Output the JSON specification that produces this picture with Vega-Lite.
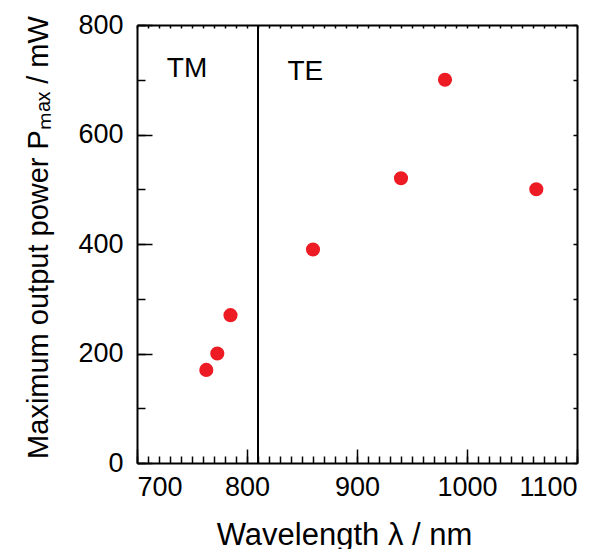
{
  "$schema": "https://vega.github.io/schema/vega-lite/v6.json",
  "width": 440,
  "height": 438,
  "autosize": "none",
  "padding": {"left": 137, "top": 25, "right": 34, "bottom": 86},
  "background": "white",
  "config": {
    "view": {"stroke": null},
    "axis": {
      "labelFont": "Liberation Sans",
      "titleFont": "Liberation Sans",
      "labelColor": "black",
      "titleColor": "black",
      "domainColor": "black",
      "tickColor": "black",
      "grid": false,
      "titleFontWeight": "normal"
    }
  },
  "datasets": {
    "pts": [
      {"wavelength": 763, "power": 170},
      {"wavelength": 773, "power": 200},
      {"wavelength": 785, "power": 270},
      {"wavelength": 860, "power": 390},
      {"wavelength": 940, "power": 520},
      {"wavelength": 980, "power": 700},
      {"wavelength": 1063, "power": 500}
    ],
    "divider": [{"wavelength": 810, "low": 0, "high": 800}],
    "labels": [
      {"label": "TM", "wavelength": 745.5, "power": 705},
      {"label": "TE", "wavelength": 853, "power": 700}
    ]
  },
  "resolve": {"axis": {"x": "independent", "y": "independent"}},
  "layer": [
    {
      "data": {"name": "divider"},
      "mark": {"type": "rule", "color": "black", "strokeWidth": 2},
      "encoding": {
        "x": {
          "field": "wavelength", "type": "quantitative",
          "scale": {"domain": [700, 1100], "nice": false},
          "axis": {
            "orient": "bottom", "labels": false, "domain": false, "title": null,
            "tickSize": -7, "tickWidth": 1.5,
            "values": [700,710,720,730,740,750,760,770,780,790,800,810,820,830,840,850,860,870,880,890,900,910,920,930,940,950,960,970,980,990,1000,1010,1020,1030,1040,1050,1060,1070,1080,1090,1100]
          }
        },
        "y": {
          "field": "low", "type": "quantitative",
          "scale": {"domain": [0, 800], "nice": false},
          "axis": {
            "orient": "left", "labels": false, "domain": false, "title": null,
            "tickSize": -8, "tickWidth": 1.5,
            "values": [0,100,200,300,400,500,600,700,800]
          }
        },
        "y2": {"field": "high"}
      }
    },
    {
      "data": {"name": "labels"},
      "mark": {"type": "text", "font": "Liberation Sans", "fontSize": 28, "align": "center", "baseline": "alphabetic", "color": "black"},
      "encoding": {
        "text": {"field": "label"},
        "x": {
          "field": "wavelength", "type": "quantitative",
          "axis": {
            "orient": "top", "labels": false, "domain": true, "domainWidth": 2, "title": null,
            "tickSize": -3, "tickWidth": 1.5,
            "values": [700,710,720,730,740,750,760,770,780,790,800,810,820,830,840,850,860,870,880,890,900,910,920,930,940,950,960,970,980,990,1000,1010,1020,1030,1040,1050,1060,1070,1080,1090,1100]
          }
        },
        "y": {
          "field": "power", "type": "quantitative",
          "axis": {
            "orient": "right", "labels": false, "domain": true, "domainWidth": 2, "title": null,
            "tickSize": -4, "tickWidth": 1.5,
            "values": [0,100,200,300,400,500,600,700,800]
          }
        }
      }
    },
    {
      "data": {"name": "pts"},
      "mark": {"type": "circle", "size": 200, "color": "#ED1C24", "opacity": 1},
      "encoding": {
        "x": {
          "field": "wavelength", "type": "quantitative",
          "axis": {
            "orient": "bottom", "values": [700, 800, 900, 1000, 1100], "format": "d",
            "tickSize": -14, "tickWidth": 1.5, "domainWidth": 2,
            "labelFontSize": 27, "labelPadding": 25,
            "title": "Wavelength λ / nm", "titleFontSize": 31, "titlePadding": 20, "titleX": 207
          }
        },
        "y": {
          "field": "power", "type": "quantitative",
          "axis": {
            "orient": "left", "values": [0, 200, 400, 600, 800],
            "tickSize": -15, "tickWidth": 1.5, "domainWidth": 2,
            "labelFontSize": 27, "labelPadding": 29,
            "title": "Maximum output power Pₘₐₓ / mW", "titleFontSize": 29, "titlePadding": 24, "titleY": 212
          }
        }
      }
    }
  ]
}
